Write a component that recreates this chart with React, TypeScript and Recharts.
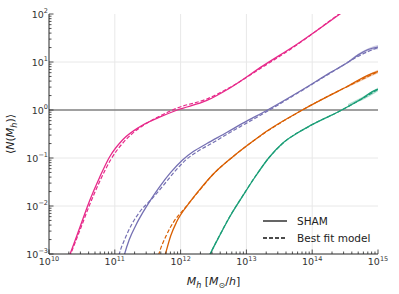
import React from "react";
import {
  ComposedChart,
  Line,
  Area,
  XAxis,
  YAxis,
  ReferenceLine,
  Legend,
} from "recharts";

document.body.style.margin = "0";

const FONT = "DejaVu Sans, sans-serif";
const AXIS = "#262626";

type P = [number, number];
type B = [number, number, number];

// halo mass [Msun/h], <N(M)>
const pinkSham: P[] = [
  [1.86e10, 6.61e-4], [2.09e10, 1e-3], [2.95e10, 3.6e-3], [4.17e10, 1.32e-2],
  [5.89e10, 3.98e-2], [8.32e10, 0.105], [1.32e11, 0.24], [2.4e11, 0.447],
  [4.79e11, 0.708], [8.91e11, 1.0], [2.51e12, 1.58], [5.62e12, 2.88],
  [1.78e13, 8.3], [6.03e13, 24], [2.51e14, 95], [3.98e14, 151],
];
const pinkModel: P[] = [
  [1.91e10, 6.61e-4], [2.14e10, 1e-3], [3.02e10, 3.4e-3], [4.27e10, 1.17e-2],
  [6.03e10, 3.47e-2], [8.71e10, 0.093], [1.38e11, 0.219], [2.4e11, 0.427],
  [4.79e11, 0.741], [8.91e11, 1.1], [2.51e12, 1.7], [5.62e12, 2.95],
  [1.78e13, 7.9], [6.03e13, 23.4], [2.51e14, 98], [3.98e14, 155],
];

const purpleSham: P[] = [
  [1.32e11, 7.08e-4], [1.41e11, 1e-3], [1.66e11, 2.0e-3], [2.09e11, 3.98e-3],
  [2.63e11, 7.08e-3], [3.55e11, 1.38e-2], [4.79e11, 2.51e-2], [7.08e11, 5.01e-2],
  [1.07e12, 9.12e-2], [1.58e12, 0.138], [2.51e12, 0.2], [5.01e12, 0.339],
  [8.71e12, 0.525], [2.09e13, 1.0], [6.31e13, 2.4], [2.0e14, 6.31],
  [3.55e14, 10], [5.01e14, 14.1], [7.08e14, 18.2], [1e15, 20.4],
];
const purpleModel: P[] = [
  [1.1e11, 7.08e-4], [1.17e11, 1e-3], [1.41e11, 2.0e-3], [1.78e11, 3.98e-3],
  [2.4e11, 7.59e-3], [3.55e11, 1.35e-2], [5.25e11, 2.51e-2], [7.94e11, 5.01e-2],
  [1.2e12, 9.12e-2], [1.78e12, 0.135], [3.02e12, 0.204], [5.62e12, 0.339],
  [9.55e12, 0.513], [2.24e13, 1.0], [6.31e13, 2.34], [2.0e14, 6.17],
  [5.75e14, 14.5], [1e15, 20],
];
const purpleBand: B[] = [
  [3.55e14, 9.5, 10.5], [5.75e14, 14.8, 16.8], [7.59e14, 17.2, 20], [1e15, 18.4, 22.5],
];

const orangeSham: P[] = [
  [5.5e11, 7.08e-4], [5.89e11, 1e-3], [7.08e11, 2.4e-3], [8.71e11, 4.68e-3],
  [1.38e12, 1.2e-2], [1.95e12, 2.19e-2], [3.02e12, 4.37e-2], [6.17e12, 0.105],
  [1.41e13, 0.251], [2.0e13, 0.355], [7.08e13, 1.0], [3.31e14, 3.02],
  [9.33e14, 6.17], [1e15, 6.3],
];
const orangeModel: P[] = [
  [4.37e11, 7.08e-4], [4.68e11, 1e-3], [6.03e11, 2.4e-3], [7.94e11, 4.79e-3],
  [1.12e12, 8.51e-3], [1.58e12, 1.51e-2], [1.95e12, 2.14e-2], [3.02e12, 4.37e-2],
  [6.17e12, 0.105], [1.41e13, 0.251], [7.08e13, 1.0], [3.31e14, 3.02], [1e15, 6.3],
];
const orangeBand: B[] = [
  [3.31e14, 2.88, 3.16], [6.0e14, 4.2, 4.9], [1e15, 5.8, 6.9],
];

const greenSham: P[] = [
  [2.51e12, 7.08e-4], [2.82e12, 1e-3], [3.98e12, 2.51e-3], [5.62e12, 6.03e-3],
  [8.71e12, 1.58e-2], [1.41e13, 4.37e-2], [2.24e13, 0.105], [3.55e13, 0.204],
  [5.62e13, 0.316], [8.91e13, 0.457], [1.58e14, 0.676], [2.63e14, 0.955],
  [5.75e14, 1.74], [9.33e14, 2.63], [1e15, 2.7],
];
const greenModel: P[] = [
  [2.51e12, 7.08e-4], [2.82e12, 1e-3], [3.98e12, 2.55e-3], [5.62e12, 6.1e-3],
  [8.71e12, 1.6e-2], [1.41e13, 4.4e-2], [2.24e13, 0.104], [3.55e13, 0.2],
  [8.91e13, 0.455], [2.63e14, 0.95], [5.75e14, 1.72], [1e15, 2.7],
];
const greenBand: B[] = [
  [3.5e14, 1.22, 1.34], [5.75e14, 1.6, 1.86], [1e15, 2.45, 2.95],
];

const xExponents = [10, 11, 12, 13, 14, 15];
const yExponents = [-3, -2, -1, 0, 1, 2];

const series = [
  { name: "pink", color: "#e7298a", sham: pinkSham, model: pinkModel, band: [] as B[] },
  { name: "purple", color: "#7570b3", sham: purpleSham, model: purpleModel, band: purpleBand },
  { name: "orange", color: "#d95f02", sham: orangeSham, model: orangeModel, band: orangeBand },
  { name: "green", color: "#1b9e77", sham: greenSham, model: greenModel, band: greenBand },
];

const rows = (pts: P[]) => pts.map(([m, n]) => ({ m, n }));
const bandRows = (pts: B[]) => pts.map(([m, lo, hi]) => ({ m, band: [lo, hi] }));

const withMinors = (exps: number[]) => {
  const out: number[] = [];
  exps.forEach((e, i) => {
    if (i === exps.length - 1) {
      out.push(Math.pow(10, e));
      return;
    }
    for (let k = 1; k < 10; k++) out.push(k * Math.pow(10, e));
  });
  return out;
};
const xTicks = withMinors(xExponents);
const yTicks = withMinors(yExponents);

const majorExp = (v: number) => {
  const lg = Math.log10(v);
  return Math.abs(lg - Math.round(lg)) < 1e-6 ? Math.round(lg) : null;
};
const fmtExp = (e: number) => (e < 0 ? "\u2212" + Math.abs(e) : String(e));

const makeTick = (side: "bottom" | "top" | "left" | "right") => (props: any) => {
  const { x, y, payload } = props;
  const e = majorExp(payload.value);
  const len = e !== null ? 4.5 : 2.5;
  let line;
  if (side === "bottom") line = { x1: x, x2: x, y1: y, y2: y - len };
  else if (side === "top") line = { x1: x, x2: x, y1: y, y2: y + len };
  else if (side === "left") line = { x1: x, x2: x + len, y1: y, y2: y };
  else line = { x1: x, x2: x - len, y1: y, y2: y };
  return (
    <g>
      <line {...line} stroke={AXIS} strokeWidth={0.8} />
      {e !== null && side === "bottom" && (
        <text x={x} y={y + 11} textAnchor="middle" fontSize={9.5} fill="#333" fontFamily={FONT}>
          10<tspan dy={-4.5} fontSize={6.5}>{fmtExp(e)}</tspan>
        </text>
      )}
      {e !== null && side === "left" && (
        <text x={x - 1} y={y + 3.5} textAnchor="end" fontSize={9.5} fill="#333" fontFamily={FONT}>
          10<tspan dy={-4.5} fontSize={6.5}>{fmtExp(e)}</tspan>
        </text>
      )}
    </g>
  );
};

const XLabel = (props: any) => {
  const vb = props.viewBox;
  return (
    <text x={vb.x + vb.width / 2} y={vb.y + 31} textAnchor="middle" fontSize={11} fill="#222" fontFamily={FONT}>
      <tspan fontStyle="italic">M</tspan>
      <tspan fontStyle="italic" fontSize={8} dy={2.5}>h</tspan>
      <tspan dy={-2.5}> [</tspan>
      <tspan fontStyle="italic">M</tspan>
      <tspan fontSize={8} dy={2.5}>{"\u2299"}</tspan>
      <tspan dy={-2.5}>/</tspan>
      <tspan fontStyle="italic">h</tspan>
      <tspan>]</tspan>
    </text>
  );
};

const YLabel = (props: any) => {
  const vb = props.viewBox;
  const cx = 14;
  const cy = vb.y + vb.height / 2;
  return (
    <text x={cx} y={cy} textAnchor="middle" fontSize={11} fill="#222" fontFamily={FONT} transform={`rotate(-90 ${cx} ${cy})`}>
      <tspan>{"\u27e8"}</tspan>
      <tspan fontStyle="italic">N</tspan>
      <tspan>(</tspan>
      <tspan fontStyle="italic">M</tspan>
      <tspan fontStyle="italic" fontSize={8} dy={2.5}>h</tspan>
      <tspan dy={-2.5}>)</tspan>
      <tspan>{"\u27e9"}</tspan>
    </text>
  );
};

const legendItems = [
  { label: "SHAM", dash: undefined as string | undefined },
  { label: "Best fit model", dash: "4 2" },
];

const renderLegend = () => (
  <svg width={120} height={40} style={{ display: "block" }}>
    {legendItems.map((it, i) => (
      <g key={it.label}>
        <line x1={3} x2={27} y1={11 + i * 17} y2={11 + i * 17} stroke="#111" strokeWidth={1.3} strokeDasharray={it.dash} />
        <text x={37} y={15 + i * 17} fontSize={10.5} fill="#222" fontFamily={FONT}>
          {it.label}
        </text>
      </g>
    ))}
  </svg>
);

export default function App() {
  return (
    <ComposedChart width={399} height={294} margin={{ top: 14, right: 21, bottom: 0, left: 0 }}>
      <XAxis
        xAxisId="b"
        type="number"
        dataKey="m"
        scale="log"
        domain={[1e10, 1e15]}
        allowDataOverflow
        ticks={xTicks}
        interval={0}
        tickSize={0}
        tickMargin={0}
        tickLine={false}
        tick={makeTick("bottom")}
        axisLine={{ stroke: AXIS, strokeWidth: 1 }}
        height={40}
        label={<XLabel />}
      />
      <XAxis
        xAxisId="t"
        orientation="top"
        type="number"
        dataKey="m"
        scale="log"
        domain={[1e10, 1e15]}
        allowDataOverflow
        ticks={xTicks}
        interval={0}
        tickSize={0}
        tickMargin={0}
        tickLine={false}
        tick={makeTick("top")}
        axisLine={{ stroke: AXIS, strokeWidth: 1 }}
        height={0}
      />
      <YAxis
        yAxisId="l"
        type="number"
        scale="log"
        domain={[1e-3, 1e2]}
        allowDataOverflow
        ticks={yTicks}
        interval={0}
        tickSize={0}
        tickMargin={0}
        tickLine={false}
        tick={makeTick("left")}
        axisLine={{ stroke: AXIS, strokeWidth: 1 }}
        width={49}
        label={<YLabel />}
      />
      <YAxis
        yAxisId="r"
        orientation="right"
        type="number"
        scale="log"
        domain={[1e-3, 1e2]}
        allowDataOverflow
        ticks={yTicks}
        interval={0}
        tickSize={0}
        tickMargin={0}
        tickLine={false}
        tick={makeTick("right")}
        axisLine={{ stroke: AXIS, strokeWidth: 1 }}
        width={0}
      />
      {xExponents.slice(1, -1).map((e) => (
        <ReferenceLine key={"gx" + e} xAxisId="b" yAxisId="l" x={Math.pow(10, e)} stroke="#e8e8e8" strokeWidth={1} />
      ))}
      {yExponents.slice(1, -1).filter((e) => e !== 0).map((e) => (
        <ReferenceLine key={"gy" + e} xAxisId="b" yAxisId="l" y={Math.pow(10, e)} stroke="#e8e8e8" strokeWidth={1} />
      ))}
      <ReferenceLine xAxisId="b" yAxisId="l" y={1} stroke="#808080" strokeWidth={1.3} />
      {series.map((s) =>
        s.band.length ? (
          <Area
            key={s.name + "-band"}
            xAxisId="b"
            yAxisId="l"
            data={bandRows(s.band)}
            dataKey="band"
            type="monotone"
            stroke="none"
            fill={s.color}
            fillOpacity={0.35}
            isAnimationActive={false}
          />
        ) : null
      )}
      {series.map((s) => (
        <Line
          key={s.name + "-model"}
          xAxisId="b"
          yAxisId="l"
          data={rows(s.model)}
          dataKey="n"
          type="monotone"
          stroke={s.color}
          strokeWidth={1.2}
          strokeDasharray="4 2"
          dot={false}
          isAnimationActive={false}
        />
      ))}
      {series.map((s) => (
        <Line
          key={s.name + "-sham"}
          xAxisId="b"
          yAxisId="l"
          data={rows(s.sham)}
          dataKey="n"
          type="monotone"
          stroke={s.color}
          strokeWidth={1.3}
          dot={false}
          isAnimationActive={false}
        />
      ))}
      <Legend
        layout="horizontal"
        verticalAlign="middle"
        align="center"
        content={renderLegend}
        wrapperStyle={{ position: "absolute", left: 260, top: 210, width: 120, height: 40 }}
      />
    </ComposedChart>
  );
}
